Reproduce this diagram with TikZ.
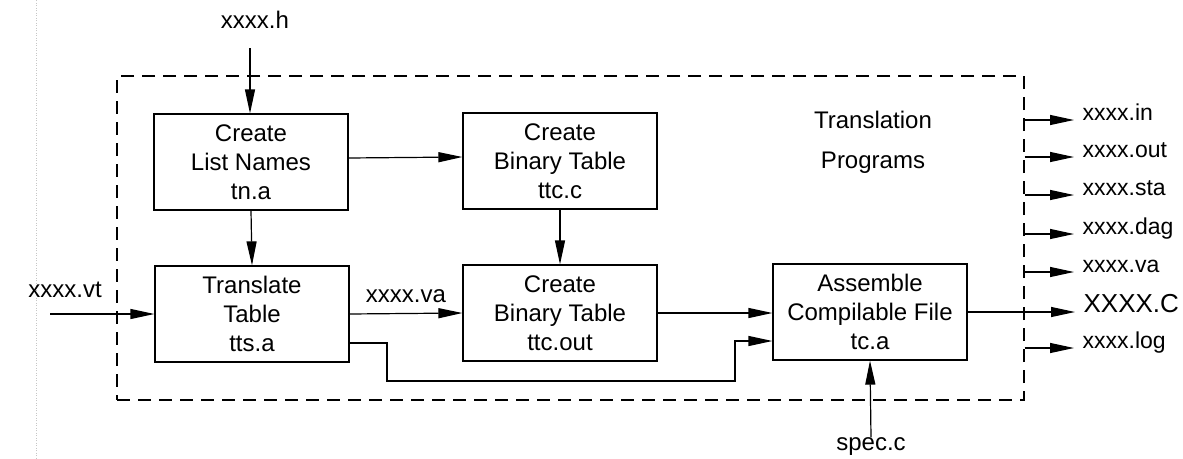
\documentclass[tikz,border=0pt]{standalone}
\usepackage{fontspec}
\setmainfont{Liberation Sans}
\usetikzlibrary{arrows.meta,positioning}
\begin{document}
\begin{tikzpicture}[x=1pt,y=-1pt,
  line width=1.2pt,
  every node/.style={font=\fontsize{24}{29}\selectfont, inner sep=0pt},
  prog/.style={draw, rectangle, minimum width=194pt, minimum height=96pt, align=center},
  arr/.style={-{Triangle[length=24pt,width=10pt]}},
  outlbl/.style={anchor=base west, font=\fontsize{23}{26}\selectfont}
]
\useasboundingbox (0,0) rectangle (1183,458);

% faint margin rule
\draw[gray!45, line width=0.5pt, dotted] (36,0) -- (36,458);

% boundary of the translation programs
\node[draw, dash pattern=on 13pt off 8pt, rectangle, minimum width=907pt, minimum height=324pt] (sys) at (570.5,238) {};
\node[align=center, font=\fontsize{24}{40}\selectfont] (title) at (873,142) {Translation\\Programs};

% program boxes
\node[prog] (tn)   at (251,162) {Create\\List Names\\tn.a};
\node[prog] (ttcc) at (560,161) {Create\\Binary Table\\ttc.c};
\node[prog] (tts)  at (252,314) {Translate\\Table\\tts.a};
\node[prog] (ttco) at (560,313) {Create\\Binary Table\\ttc.out};
\node[prog] (tca)  at (870,312) {Assemble\\Compilable File\\tc.a};

% inputs
\node (hin) at (255,20) {xxxx.h};
\coordinate (hsrc) at (250,48);
\node (vtin) at (65,290) {xxxx.vt};
\coordinate (vtsrc) at (50,314);
\node (spec) at (871,447) {spec.c};

\draw[arr] (hsrc) -- (tn.north -| hsrc);
\draw[arr] (vtsrc) -- (tts.west);
\draw[arr] (spec.north) -- (tca.south);

% internal flow
\draw[arr] ([yshift=4pt]tn.east) -- ([yshift=4pt]ttcc.west);
\draw[arr] (tn.south) -- (tts.north);
\draw[arr] (ttcc.south) -- (ttco.north);
\draw[arr] (tts.east) -- node[above=10pt] (va) {xxxx.va} (ttco.west);
\draw[arr] (ttco.east) -- (ttco.east -| tca.west);
\coordinate (bypass) at (387,381);
\coordinate (rise) at (735,381);
\draw[arr] ([yshift=-29pt]tts.east) -| (bypass) -- (rise) |- ([yshift=-29pt]tca.west);

% outputs
\node[outlbl] (oin)  at (1082,120) {xxxx.in};
\node[outlbl] (oout) at (1082,157) {xxxx.out};
\node[outlbl] (osta) at (1082,195) {xxxx.sta};
\node[outlbl] (odag) at (1082,234) {xxxx.dag};
\node[outlbl] (ova)  at (1082,272) {xxxx.va};
\node[outlbl, font=\fontsize{26}{30}\selectfont] (oc) at (1083,312) {XXXX.C};
\node[outlbl] (olog) at (1082,348) {xxxx.log};

\foreach \o in {oin,oout,osta,odag,ova,olog}
  \draw[arr] (sys.east |- \o.base) -- ([xshift=-8pt]\o.base west);
\draw[arr] (tca.east) -- ([xshift=-8pt]oc.base west);
\end{tikzpicture}
\end{document}
